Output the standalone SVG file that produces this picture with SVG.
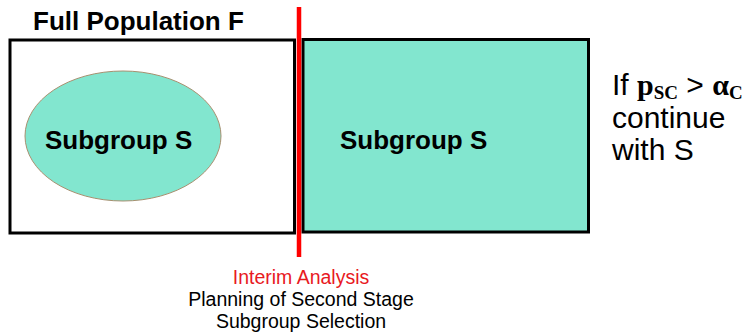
<svg xmlns="http://www.w3.org/2000/svg" width="746" height="332" viewBox="0 0 746 332">
<style>
.box{stroke:#000;stroke-width:3}
.lbl{font-family:"Liberation Sans",Arial,sans-serif;font-weight:bold;font-size:26px;fill:#000}
.side{font-family:"Liberation Sans",Arial,sans-serif;font-size:30px;fill:#000}
.math{font-family:"Liberation Serif","Times New Roman",serif;font-weight:bold}
.note{font-family:"Liberation Sans",Arial,sans-serif;font-size:19.5px;text-anchor:middle}
</style>
<rect width="746" height="332" fill="#fff"/>
<g id="full-population">
<rect class="box" x="10" y="40" width="284.5" height="193" fill="#fff"/>
<text class="lbl" x="33" y="30">Full Population F</text>
</g>
<g id="subgroup-ellipse">
<ellipse cx="123" cy="136" rx="98" ry="65" fill="#82E6CF" stroke="#A89070" stroke-width="1"/>
<text class="lbl" x="45" y="149">Subgroup S</text>
</g>
<g id="subgroup-rect">
<rect class="box" x="303" y="39.5" width="285.5" height="192.5" fill="#82E6CF"/>
<text class="lbl" x="340" y="149">Subgroup S</text>
</g>
<g id="interim-line">
<line x1="299" y1="7" x2="299" y2="257" stroke="#FF0000" stroke-width="4.5"/>
</g>
<g id="decision">
<text class="side" x="612" y="95">If <tspan class="math">p</tspan><tspan class="math" font-size="19" dy="4">SC</tspan><tspan dy="-4"> &gt; </tspan><tspan class="math">α</tspan><tspan class="math" font-size="19" dy="4">C</tspan></text>
<text class="side" x="612" y="128">continue</text>
<text class="side" x="612" y="160">with S</text>
</g>
<g id="interim-label">
<text class="note" x="301" y="284" fill="#E8191E">Interim Analysis</text>
<text class="note" x="301" y="306" fill="#000">Planning of Second Stage</text>
<text class="note" x="301" y="328" fill="#000">Subgroup Selection</text>
</g>
<g id="connectors"></g>
</svg>
